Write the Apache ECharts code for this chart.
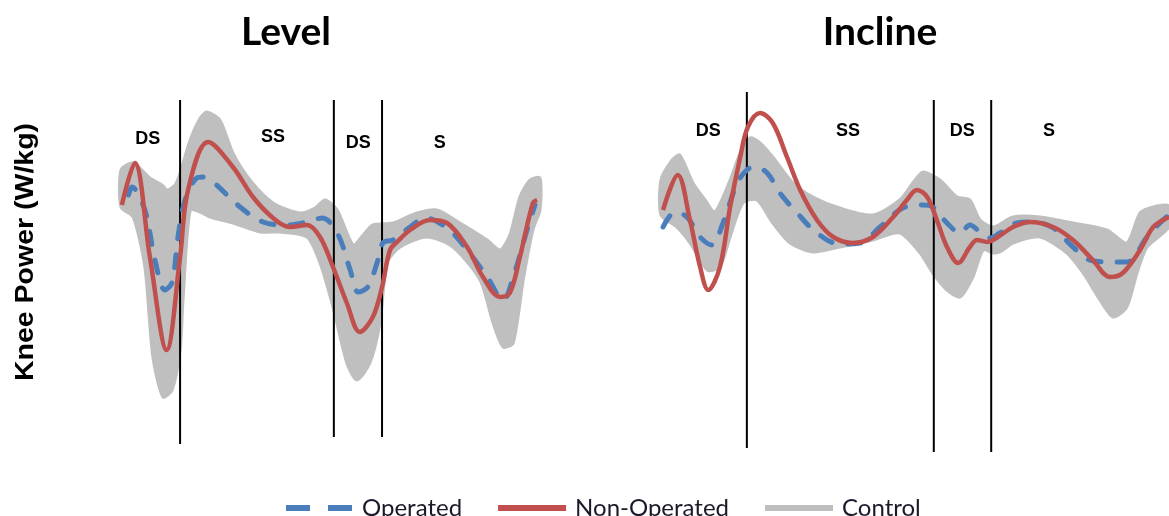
<!DOCTYPE html>
<html><head><meta charset="utf-8">
<script src="https://cdn.jsdelivr.net/npm/echarts@6/dist/echarts.min.js"></script>
<style>html,body{margin:0;padding:0;background:#fff}#c{width:1169px;height:516px}</style>
</head><body><div id="c"></div><script>
// x = % of gait cycle, y = knee power (W/kg)
const LEVEL_OPERATED = [[1.8,0.10],[2.6,0.18],[5.7,-0.05],[8.1,-0.55],[10.5,-0.85],[12.2,-0.77],[13.6,-0.32],[15.3,0.05],[18.1,0.27],[19.6,0.28],[22.0,0.23],[28.4,-0.02],[33.9,-0.17],[39.6,-0.20],[44.4,-0.17],[48.0,-0.13],[51.6,-0.28],[54.7,-0.65],[56.6,-0.87],[58.9,-0.82],[61.1,-0.58],[62.5,-0.38],[64.9,-0.35],[69.0,-0.22],[72.6,-0.13],[77.8,-0.23],[82.6,-0.45],[87.4,-0.72],[91.2,-0.95],[93.6,-0.72],[96.9,-0.25],[98.8,0.00]];
const LEVEL_NONOP = [[0.2,0.00],[3.3,0.42],[6.9,-0.52],[10.9,-1.45],[14.1,-0.52],[16.0,0.15],[20.8,0.63],[26.7,0.38],[31.5,0.08],[36.3,-0.13],[40.3,-0.22],[44.4,-0.20],[47.5,-0.32],[50.6,-0.62],[53.9,-0.98],[57.0,-1.27],[60.1,-1.12],[62.3,-0.82],[64.2,-0.45],[65.9,-0.37],[69.0,-0.25],[73.7,-0.15],[77.8,-0.18],[82.6,-0.42],[86.4,-0.72],[90.5,-0.92],[92.8,-0.88],[95.2,-0.52],[98.3,0.02],[99.3,0.05]];
const LEVEL_CTRL_UPPER = [[0,0.35],[2.9,0.42],[6.9,0.27],[9.8,0.20],[11.0,0.15],[12.9,0.20],[14.1,0.32],[16.5,0.65],[18.9,0.87],[20.5,0.93],[23.6,0.85],[26.7,0.52],[30.8,0.25],[36.3,0.02],[42.7,-0.08],[46.3,-0.03],[48.7,0.05],[51.6,-0.05],[55.4,-0.40],[57.8,-0.30],[60.1,-0.20],[64.9,-0.18],[70.6,-0.08],[75.4,-0.05],[80.9,-0.18],[87.4,-0.35],[90.5,-0.45],[92.8,-0.30],[95.2,0.08],[97.6,0.25],[100,0.27]];
const LEVEL_CTRL_LOWER = [[0,-0.02],[2.9,-0.12],[5.7,-0.62],[7.6,-1.52],[10.0,-1.92],[12.2,-1.85],[14.1,-1.45],[14.8,-0.95],[16.5,-0.05],[18.9,-0.07],[21.2,-0.12],[26.7,-0.18],[33.2,-0.27],[37.9,-0.27],[44.4,-0.32],[47.5,-0.58],[50.6,-1.02],[53.9,-1.58],[56.3,-1.75],[59.4,-1.58],[61.8,-1.18],[63.5,-0.58],[66.6,-0.42],[73.0,-0.32],[79.2,-0.42],[85.7,-0.75],[88.8,-1.18],[91.2,-1.42],[93.6,-1.38],[96.0,-0.75],[98.3,-0.25],[100,-0.05]];

const INCLINE_OPERATED = [[0.4,-0.22],[2.8,-0.07],[5.1,-0.12],[7.7,-0.32],[10.0,-0.40],[12.2,-0.18],[15.0,0.22],[16.9,0.35],[18.5,0.38],[20.9,0.32],[23.4,0.12],[26.8,-0.08],[30.7,-0.28],[35.2,-0.39],[39.2,-0.38],[43.1,-0.22],[47.6,-0.03],[51.6,0.00],[53.5,-0.02],[56.3,-0.18],[58.9,-0.28],[60.8,-0.20],[62.8,-0.27],[64.8,-0.33],[66.7,-0.28],[70.1,-0.18],[73.2,-0.17],[77.2,-0.23],[81.1,-0.42],[84.4,-0.55],[88.4,-0.57],[91.7,-0.57],[95.7,-0.32],[98.2,-0.18],[100,-0.10]];
const INCLINE_NONOP = [[0.4,-0.05],[3.3,0.30],[5.7,-0.15],[7.7,-0.62],[9.3,-0.85],[11.6,-0.62],[13.6,-0.02],[15.6,0.48],[17.1,0.78],[19.5,0.92],[22.0,0.82],[24.8,0.48],[27.4,0.15],[30.7,-0.15],[33.9,-0.32],[37.8,-0.38],[41.7,-0.32],[45.7,-0.12],[48.4,0.05],[50.4,0.15],[52.4,0.08],[54.3,-0.15],[56.3,-0.42],[58.5,-0.58],[60.8,-0.42],[62.2,-0.35],[64.2,-0.37],[66.3,-0.32],[69.3,-0.22],[72.6,-0.17],[77.2,-0.22],[81.1,-0.35],[85.0,-0.55],[88.4,-0.72],[90.9,-0.68],[94.3,-0.45],[96.9,-0.22],[100,-0.12]];
const INCLINE_CTRL_UPPER = [[0,0.25],[2.2,0.45],[3.7,0.50],[6.3,0.22],[8.7,0.05],[10.6,-0.07],[13.6,0.25],[15.6,0.52],[17.5,0.67],[19.5,0.62],[22.0,0.48],[26.0,0.22],[29.9,0.08],[35.2,-0.03],[41.7,-0.10],[47.0,0.05],[50.0,0.25],[51.6,0.33],[54.9,0.25],[58.3,0.08],[60.8,0.05],[62.8,-0.15],[65.4,-0.22],[69.3,-0.12],[74.6,-0.12],[81.1,-0.18],[87.8,-0.25],[91.7,-0.38],[94.3,-0.08],[96.9,-0.02],[100,-0.01]];
const INCLINE_CTRL_LOWER = [[0,-0.10],[3.1,-0.22],[5.7,-0.38],[9.1,-0.65],[11.6,-0.62],[13.6,-0.32],[16.1,0.02],[18.9,0.05],[22.0,-0.18],[25.4,-0.38],[29.9,-0.47],[35.2,-0.42],[41.7,-0.35],[47.0,-0.28],[51.0,-0.48],[53.5,-0.68],[56.3,-0.85],[58.9,-0.92],[61.4,-0.72],[63.4,-0.45],[65.4,-0.48],[66.7,-0.47],[69.3,-0.38],[74.6,-0.32],[79.9,-0.48],[83.1,-0.68],[86.4,-0.95],[89.0,-1.12],[91.7,-1.02],[93.7,-0.68],[95.7,-0.42],[100,-0.22]];

// phase boundaries: [x, yTop, yBottom]
const LEVEL_DIVIDERS = [[14.1,1.05,-2.39],[50.8,1.05,-2.32],[62.3,1.05,-2.32]];
const INCLINE_DIVIDERS = [[16.9,1.13,-2.43],[53.7,1.05,-2.47],[65.0,1.05,-2.47]];
// phase labels
const LEVEL_PHASES = [['DS',6.4,0.66],['SS',36.3,0.68],['DS',56.6,0.62],['S',76.1,0.62]];
const INCLINE_PHASES = [['DS',9.3,0.74],['SS',36.8,0.74],['DS',59.3,0.74],['S',76.4,0.74]];

const TITLES = ['Level','Incline'];
const Y_LABEL = 'Knee Power (W/kg)';
const LEGEND_NAMES = ['Operated','Non-Operated','Control'];
const COL_OP = '#4a7ebb', COL_NON = '#c0504d', COL_CTRL = '#bfbfbf';

function panelSeries(gi, op, non, up, lo, dividers, phases) {
  const band = up.concat(lo.slice().reverse());
  const s = [];
  s.push({
    type: 'custom', name: 'ControlBand', xAxisIndex: gi, yAxisIndex: gi, silent: true, z: 1,
    data: [[50, 0]],
    renderItem: function (params, api) {
      const pts = band.map(p => api.coord(p));
      return { type: 'polygon', shape: { points: pts, smooth: 0.25 },
        style: { fill: COL_CTRL, stroke: COL_CTRL, lineWidth: 3, lineJoin: 'round' } };
    }
  });
  dividers.forEach(d => s.push({
    type: 'line', name: 'div', xAxisIndex: gi, yAxisIndex: gi, silent: true, z: 3, symbol: 'none',
    data: [[d[0], d[1]], [d[0], d[2]]], lineStyle: { color: '#000', width: 2 }
  }));
  s.push({
    type: 'line', name: LEGEND_NAMES[0], xAxisIndex: gi, yAxisIndex: gi, z: 4, symbol: 'none', smooth: 0.35,
    data: op, lineStyle: { color: COL_OP, width: 5, type: [13, 16], cap: 'round' }, itemStyle: { color: COL_OP }
  });
  s.push({
    type: 'line', name: LEGEND_NAMES[1], xAxisIndex: gi, yAxisIndex: gi, z: 5, symbol: 'none', smooth: 0.35,
    data: non, lineStyle: { color: COL_NON, width: 4.5 }, itemStyle: { color: COL_NON }
  });
  s.push({
    type: 'scatter', name: 'phase', xAxisIndex: gi, yAxisIndex: gi, silent: true, symbolSize: 0, z: 6,
    itemStyle: { opacity: 1, color: '#000' },
    data: phases.map(p => ({ name: p[0], value: [p[1], p[2]] })),
    label: { show: true, position: 'inside', formatter: '{b}', color: '#000', opacity: 1,
      fontFamily: 'Liberation Sans, Arial', fontWeight: 'bold', fontSize: 18 }
  });
  return s;
}

const series = [].concat(
  panelSeries(0, LEVEL_OPERATED, LEVEL_NONOP, LEVEL_CTRL_UPPER, LEVEL_CTRL_LOWER, LEVEL_DIVIDERS, LEVEL_PHASES),
  panelSeries(1, INCLINE_OPERATED, INCLINE_NONOP, INCLINE_CTRL_UPPER, INCLINE_CTRL_LOWER, INCLINE_DIVIDERS, INCLINE_PHASES)
);
series.push({ type: 'line', name: LEGEND_NAMES[2], xAxisIndex: 0, yAxisIndex: 0, data: [], symbol: 'none',
  lineStyle: { color: COL_CTRL, width: 5 }, itemStyle: { color: COL_CTRL } });

const axX = { type: 'value', min: 0, max: 100, show: false };
const axY = { type: 'value', min: -2.5, max: 1.2, show: false };
const titleStyle = { fontFamily: 'Lato', fontWeight: 'bold', fontSize: 39, color: '#000' };

const chart = echarts.init(document.getElementById('c'), null, { renderer: 'canvas' });
chart.setOption({
  animation: false,
  backgroundColor: '#fff',
  title: [
    { text: TITLES[0], left: 281, top: 8, textAlign: 'center', textStyle: titleStyle },
    { text: TITLES[1], left: 875, top: 8, textAlign: 'center', textStyle: titleStyle }
  ],
  grid: [
    { left: 121, width: 419, top: 85, height: 370 },
    { left: 661, width: 508, top: 85, height: 370 }
  ],
  xAxis: [Object.assign({ gridIndex: 0 }, axX), Object.assign({ gridIndex: 1 }, axX)],
  yAxis: [Object.assign({ gridIndex: 0 }, axY), Object.assign({ gridIndex: 1 }, axY)],
  legend: {
    data: [
      { name: LEGEND_NAMES[0], icon: 'path://M0,0H24V6H0Z M42,0H66V6H42Z', itemStyle: { color: COL_OP } },
      { name: LEGEND_NAMES[1], icon: 'rect', itemStyle: { color: COL_NON } },
      { name: LEGEND_NAMES[2], icon: 'rect', itemStyle: { color: COL_CTRL } }
    ],
    left: 281, top: 491, itemWidth: 68, itemHeight: 6, itemGap: 36,
    textStyle: { fontFamily: 'Lato', fontSize: 24, color: '#1a1a2a', padding: [0, 0, 0, 4] }
  },
  graphic: [{
    type: 'text', x: 26, y: 252, rotation: Math.PI / 2, scaleX: 1.14, scaleY: 1,
    style: { text: Y_LABEL, fill: '#000', font: 'bold 25px "Liberation Sans", Arial',
      textAlign: 'center', textVerticalAlign: 'middle' }
  }],
  series: series
});
</script></body></html>
